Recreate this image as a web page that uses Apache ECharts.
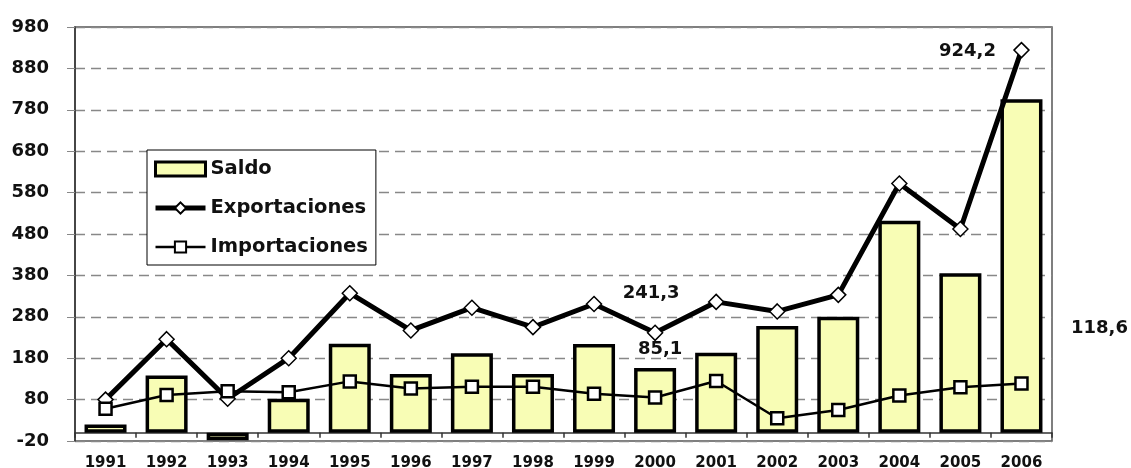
<!DOCTYPE html>
<html>
<head>
<meta charset="utf-8">
<script src="https://cdn.jsdelivr.net/npm/echarts@6/dist/echarts.min.js"></script>
<style>
  html, body { margin: 0; padding: 0; background: #fff; }
  #chart { width: 1131px; height: 468px; }
</style>
</head>
<body>
<div id="chart"></div>
<script>
const years = ['1991', '1992', '1993', '1994', '1995', '1996', '1997', '1998',
    '1999', '2000', '2001', '2002', '2003', '2004', '2005', '2006']
const saldo = [20, 138, -18, 82, 215, 142, 192, 142, 214, 156.2, 193, 258, 280, 512, 385, 805.6]
const exportaciones = [80, 226, 82, 180, 337, 247, 302, 255, 311, 241.3, 316, 293, 333, 602, 492, 924.2]
const importaciones = [58, 91, 100, 98, 124, 107, 111, 111, 94, 85.1, 125, 35, 55, 90, 110, 118.6]

// which points carry a value label, and where it sits relative to the point
const expLabels = { 9: [-4, -39], 15: [-54, 1] }
const impLabels = { 9: [5, -48], 15: [78, -55] }

const font = 'DejaVu Sans'
const labelStyle = { fontFamily: font, fontWeight: 'bold', fontSize: 18, color: '#111' }

const withLabels = function (values, labels) {
    return values.map((v, i) => {
        if (!labels[i]) return v
        return {
            value: v,
            label: Object.assign({
                show: true,
                position: 'inside',
                offset: labels[i],
                formatter: String(v).replace('.', ',')
            }, labelStyle)
        }
    })
}

const chartInstance = echarts.init(document.getElementById('chart'))
const option = {
    animation: false,
    textStyle: { fontFamily: font },
    grid: {
        top: 27,
        left: 75,
        right: 79,
        bottom: 27,
        containLabel: false,
        outerBoundsMode: 'none',
        show: true,
        borderColor: '#555',
        borderWidth: 1.5
    },
    legend: {
        orient: 'vertical',
        left: 147,
        top: 150,
        padding: [9, 8, 8, 6],
        itemGap: 19,
        itemWidth: 50,
        itemHeight: 14,
        backgroundColor: '#fff',
        borderColor: '#000',
        borderWidth: 1,
        textStyle: { fontFamily: font, fontWeight: 'bold', fontSize: 19.5, color: '#111' },
        data: [
            { name: 'Saldo', icon: 'rect', itemStyle: { borderWidth: 3 } },
            { name: 'Exportaciones', lineStyle: { width: 5 } },
            { name: 'Importaciones', lineStyle: { width: 2.5 } }
        ]
    },
    xAxis: {
        type: 'category',
        data: years,
        axisLine: { onZero: true, lineStyle: { color: '#333', width: 1.5 } },
        axisTick: { show: true, length: 5, lineStyle: { color: '#333', width: 1.5 } },
        axisLabel: { interval: 0, margin: 15, fontFamily: font, fontWeight: 'bold', fontSize: 15, color: '#111' }
    },
    yAxis: {
        type: 'value',
        min: -20,
        max: 980,
        interval: 100,
        axisLine: { show: true, lineStyle: { color: '#333', width: 1.5 } },
        axisTick: { show: true, length: 8, lineStyle: { color: '#888' } },
        axisLabel: { margin: 26, fontFamily: font, fontWeight: 'bold', fontSize: 18, color: '#111' },
        splitLine: { lineStyle: { color: '#888', type: [10, 6], width: 1.3 } }
    },
    series: [
        {
            name: 'Saldo',
            type: 'bar',
            barWidth: 42,
            itemStyle: { color: '#F8FDB5', borderColor: '#000', borderWidth: 3.5 },
            data: saldo
        },
        {
            name: 'Exportaciones',
            type: 'line',
            symbol: 'diamond',
            symbolSize: 15,
            lineStyle: { color: '#000', width: 5 },
            itemStyle: { color: '#fff', borderColor: '#000', borderWidth: 1.5 },
            data: withLabels(exportaciones, expLabels)
        },
        {
            name: 'Importaciones',
            type: 'line',
            symbol: 'rect',
            symbolSize: 12,
            lineStyle: { color: '#000', width: 2.5 },
            itemStyle: { color: '#fff', borderColor: '#000', borderWidth: 2.5 },
            data: withLabels(importaciones, impLabels)
        }
    ]
}
option && chartInstance.setOption(option)
</script>
</body>
</html>
